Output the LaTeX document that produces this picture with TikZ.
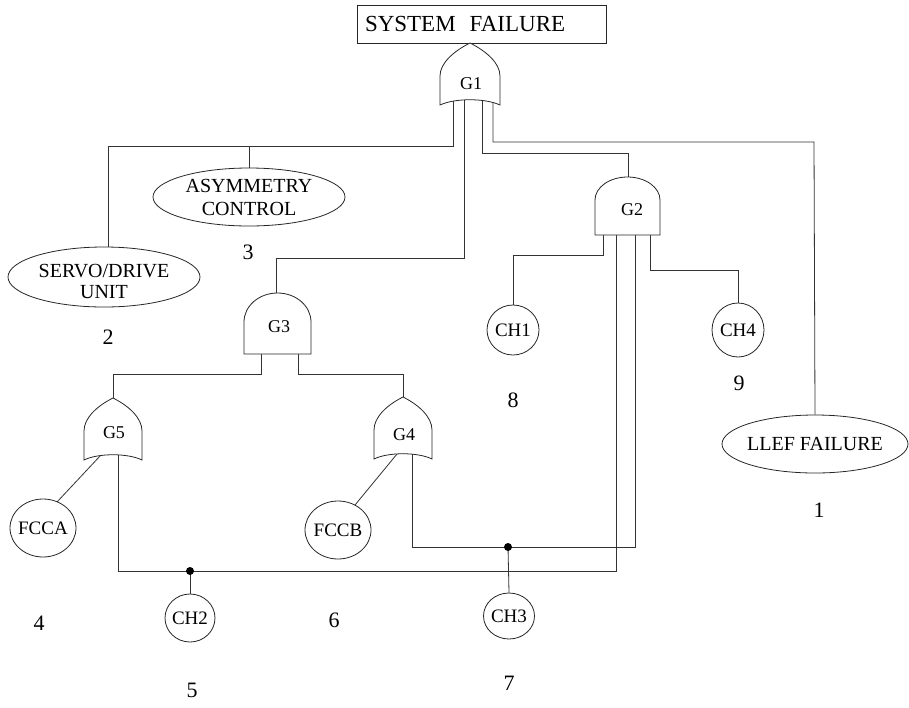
\documentclass[tikz,border=0pt]{standalone}
\usepackage{fontspec}
\setmainfont{Liberation Serif}
\usetikzlibrary{shapes.geometric}
\newcommand\OrGate[3]{%
  \draw[gate] (#1-#3,#2+62) -- (#1-#3,#2+33) .. controls (#1-#3,#2+20) and (#1-16,#2+8) .. (#1,#2)
    .. controls (#1+16,#2+8) and (#1+#3,#2+20) .. (#1+#3,#2+33) -- (#1+#3,#2+62)
    .. controls (#1+15,#2+55) and (#1-15,#2+55) .. (#1-#3,#2+62) -- cycle;}
\newcommand\AndGate[5]{%
  \draw[gate] (#1-#3,#5) -- (#1-#3,#2+#4) .. controls (#1-#3,#2+0.4477*#4) and (#1-0.5523*#3,#2) .. (#1,#2)
    .. controls (#1+0.5523*#3,#2) and (#1+#3,#2+0.4477*#4) .. (#1+#3,#2+#4) -- (#1+#3,#5) -- cycle;}
\begin{document}
\begin{tikzpicture}[x=1pt,y=-1pt,
  wire/.style={draw=black!80, line width=0.8pt},
  gate/.style={draw=black!85, line width=0.8pt, fill=white},
  ev/.style={ellipse, draw=black!85, line width=0.8pt, inner sep=0pt, fill=white},
  lab/.style={font=\fontsize{19}{18}\selectfont, inner sep=0pt, align=center},
  elab/.style={font=\fontsize{20}{21}\selectfont, inner sep=0pt, align=center},
  glab/.style={font=\fontsize{18}{20}\selectfont, inner sep=0pt},
  num/.style={font=\fontsize{22}{24}\selectfont, inner sep=0pt},
  jdot/.style={circle, fill=black, inner sep=0pt, minimum size=8pt}]
\useasboundingbox (0,0) rectangle (909,707);

% top event
\node[draw=black!85, line width=0.8pt, minimum height=38pt, inner ysep=0pt, inner xsep=8pt,
  text width=233pt, align=left, font=\fontsize{23}{25}\selectfont] (sf) at (481.5,24)
  {SYSTEM\hspace{14pt}FAILURE};

% events (shapes)
\node[ev, minimum width=192pt, minimum height=58pt] (asym) at (249,197) {};
\node[ev, minimum width=192pt, minimum height=60pt] (servo) at (104,277) {};
\node[ev, minimum width=186pt, minimum height=58pt] (llef) at (815,444) {};
\node[ev, minimum width=66pt, minimum height=58pt] (fcca) at (43,528) {};
\node[ev, minimum width=66pt, minimum height=58pt] (fccb) at (338,530) {};
\node[ev, minimum width=52pt, minimum height=50pt] (ch1) at (513,330) {};
\node[ev, minimum width=52pt, minimum height=54pt] (ch4) at (738,330) {};
\node[ev, minimum width=50pt, minimum height=48pt] (ch2) at (190,618) {};
\node[ev, minimum width=51pt, minimum height=46pt] (ch3) at (509,616) {};

% gate pin coordinates
\coordinate (g1a) at (453,95);
\coordinate (g1b) at (464,95);
\coordinate (g1c) at (482,95);
\coordinate (g1d) at (493,95);
\coordinate (g1in) at (470,43);
\coordinate (g2in) at (628,177);
\coordinate (g2a) at (603,230);
\coordinate (g2b) at (616,230);
\coordinate (g2c) at (635,230);
\coordinate (g2d) at (650,230);
\coordinate (g3in) at (276,293);
\coordinate (g3a) at (261,350);
\coordinate (g3b) at (298,350);
\coordinate (g5in) at (113,398);
\coordinate (g5a) at (101,455);
\coordinate (g5b) at (118,450);
\coordinate (g4in) at (403,397);
\coordinate (g4a) at (397,454);
\coordinate (g4b) at (412,450);
\coordinate (j1) at (453,146);
\coordinate (jA) at (190,571);
\coordinate (jB) at (508,547);

% wires
\draw[wire] (sf.south -| g1in) -- (g1in);
\draw[wire] (g1a) -- (j1) -| ([xshift=4pt]servo.north);
\draw[wire] (asym.north) -- (asym.north |- j1);
\draw[wire] (g1b) |- (276,258) -- (g3in);
\draw[wire] (g1c) |- (628,153) -- (g2in);
\draw[wire] (g1d) |- (814,142) -- (llef.north);
\draw[wire] (g3a) |- (113,374) -- (g5in);
\draw[wire] (g3b) |- (403,374) -- (g4in);
\draw[wire] (g5a) -- (57,502);
\draw[wire] (g4a) -- (355,505);
\draw[wire] (g5b) |- (jA) -| (g2b);
\draw[wire] (g4b) |- (jB) -| (g2c);
\draw[wire] (jA) -- (ch2.north);
\draw[wire] (jB) -- (ch3.north);
\draw[wire] (g2a) |- (513,255) -- (ch1.north);
\draw[wire] (g2d) |- (738,270) -- (ch4.north);
\node[jdot] at (jA) {};
\node[jdot] at (jB) {};

% gates
\OrGate{470}{43}{30}
\OrGate{113}{398}{29}
\OrGate{403}{397}{29}
\AndGate{627.5}{177}{32.5}{23}{235}
\AndGate{277.5}{293}{33.5}{29}{354}

% gate labels
\node[glab] (G1) at (471,84) {G1};
\node[glab] (G2) at (632,210) {G2};
\node[glab] (G3) at (279,327) {G3};
\node[glab] (G4) at (404,435) {G4};
\node[glab] (G5) at (114,433) {G5};

% event labels
\node[elab, font=\fontsize{20}{23}\selectfont] (tasym) at (asym) {ASYMMETRY\\CONTROL};
\node[elab] (tservo) at ([yshift=-4pt]servo.center) {SERVO/DRIVE\\UNIT};
\node[elab] (tllef) at (llef) {LLEF FAILURE};
\node[lab] (tfcca) at (fcca) {FCCA};
\node[lab] (tfccb) at (fccb) {FCCB};
\node[lab] (tch1) at (ch1) {CH1};
\node[lab] (tch4) at (ch4) {CH4};
\node[lab] (tch2) at (ch2) {CH2};
\node[lab] (tch3) at (ch3) {CH3};

% numbers
\node[num] (n1) at (819,510) {1};
\node[num] (n2) at (108,337) {2};
\node[num] (n3) at (248,252) {3};
\node[num] (n4) at (39,623) {4};
\node[num] (n5) at (192,690) {5};
\node[num] (n6) at (334,620) {6};
\node[num] (n7) at (509,683) {7};
\node[num] (n8) at (513,400) {8};
\node[num] (n9) at (739,383) {9};
\end{tikzpicture}
\end{document}
